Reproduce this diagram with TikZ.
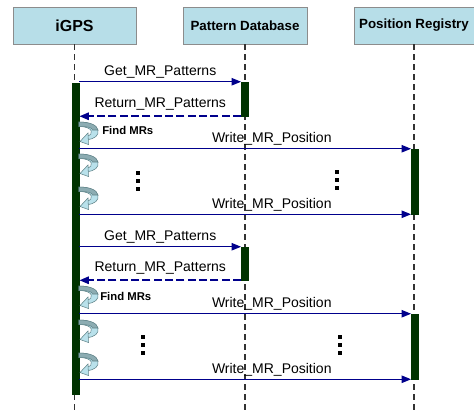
\documentclass[tikz,border=0pt]{standalone}
\usepackage{fontspec}
\setmainfont{Liberation Sans}
\usetikzlibrary{arrows.meta}

\definecolor{headfill}{RGB}{183,222,232}
\definecolor{headline}{RGB}{140,140,140}
\definecolor{msgblue}{RGB}{0,0,140}
\definecolor{barfill}{RGB}{0,51,0}
\definecolor{loopdark}{RGB}{140,172,178}
\definecolor{looplight}{RGB}{185,225,235}
\definecolor{loopline}{RGB}{95,130,135}

\tikzset{
	head/.style={draw=headline, fill=headfill, minimum height=27.75pt, inner sep=0pt,
		font=\bfseries\fontsize{10}{12}\selectfont},
	life/.style={draw=black!80, line width=1.3pt, dash pattern=on 4pt off 3.5pt},
	actbar/.style={draw=barfill, fill=barfill, minimum width=5.5pt, inner sep=0pt},
	msg/.style={draw=msgblue, line width=0.8pt, -{Triangle[length=7pt,width=5.5pt]}},
	reply/.style={msg, line width=1.3pt, dash pattern=on 6pt off 2.5pt},
	msglabel/.style={font=\fontsize{10.5}{12}\selectfont, text=black, inner sep=2pt},
	findlabel/.style={font=\bfseries\fontsize{8.5}{10}\selectfont, inner sep=0pt},
}

\begin{document}
\begin{tikzpicture}[x=0.75pt, y=-0.75pt]
			\useasboundingbox (0,0) rectangle (474,412);
			\coordinate (bottom) at (0,412);

			% participants
			\node [head, minimum width=92.25pt, font=\bfseries\fontsize{12}{14}\selectfont] (igps) at (74.5,25.5) {iGPS};
			\node [head, minimum width=93pt] (pdb) at (245,25.5) {Pattern Database};
			\node [head, minimum width=90pt] (preg) at (414,25.5) {Position Registry};
			\foreach \p in {igps, pdb, preg} {
				\draw [life] (\p.south) -- (\p.south |- bottom);
			}

			% activations
			\node [actbar, minimum height=233.25pt] (ig) at (75.5,238.5) {};
			\node [actbar, minimum height=25.5pt] (pd1) at (245,99) {};
			\node [actbar, minimum height=48.75pt] (pr1) at (415,181.5) {};
			\node [actbar, minimum height=24.75pt] (pd2) at (245,263.5) {};
			\node [actbar, minimum height=48.75pt] (pr2) at (415,346.5) {};

			% messages
			\foreach \d/\r in {pd1/pr1, pd2/pr2} {
				\draw [msg] (ig.east |- \d.north) -- node [msglabel, above] {Get\_MR\_Patterns} (\d.north west);
				\draw [reply] (\d.south west) -- node [msglabel, above=1.5pt] {Return\_MR\_Patterns} (ig.east |- \d.south);
				\draw [msg] (ig.east |- \r.north) -- node [msglabel, above, pos=0.58] {Write\_MR\_Position} (\r.north west);
				\draw [msg] (ig.east |- \r.south) -- node [msglabel, above, pos=0.58] {Write\_MR\_Position} (\r.south west);
			}

			% self calls
			\foreach \t in {122, 154, 187, 286, 320, 353} {
				\filldraw [fill=looplight, draw=loopline, line width=0.4pt]
					(79,\t) .. controls (103,\t) and (103,\t+17) .. (87,\t+17.5) --
					(87,\t+14) .. controls (94,\t+13) and (94,\t+4.5) .. (79,\t+4.5) -- cycle;
				\filldraw [fill=loopdark, draw=loopline, line width=0.4pt]
					(79,\t) .. controls (90,\t) and (97,\t+3) .. (98,\t+8) --
					(92.5,\t+8) .. controls (92,\t+5.5) and (88,\t+4.5) .. (79,\t+4.5) -- cycle;
				\filldraw [fill=looplight, draw=loopline, line width=0.4pt]
					(88,\t+11) -- (80,\t+19.5) -- (88.5,\t+22.5) -- cycle;
			}
			\node [findlabel, anchor=west] (find1) at (102,130) {Find MRs};
			\node [findlabel, anchor=west] (find2) at (100,296) {Find MRs};

			% continuation dots
			\foreach \x/\y in {138/173, 337/172, 143/337, 340/337} {
				\foreach \d in {0, 8, 16} {
					\fill (\x-1.6,\y+\d-1.6) rectangle (\x+1.6,\y+\d+1.6);
				}
			}
\end{tikzpicture}
\end{document}
